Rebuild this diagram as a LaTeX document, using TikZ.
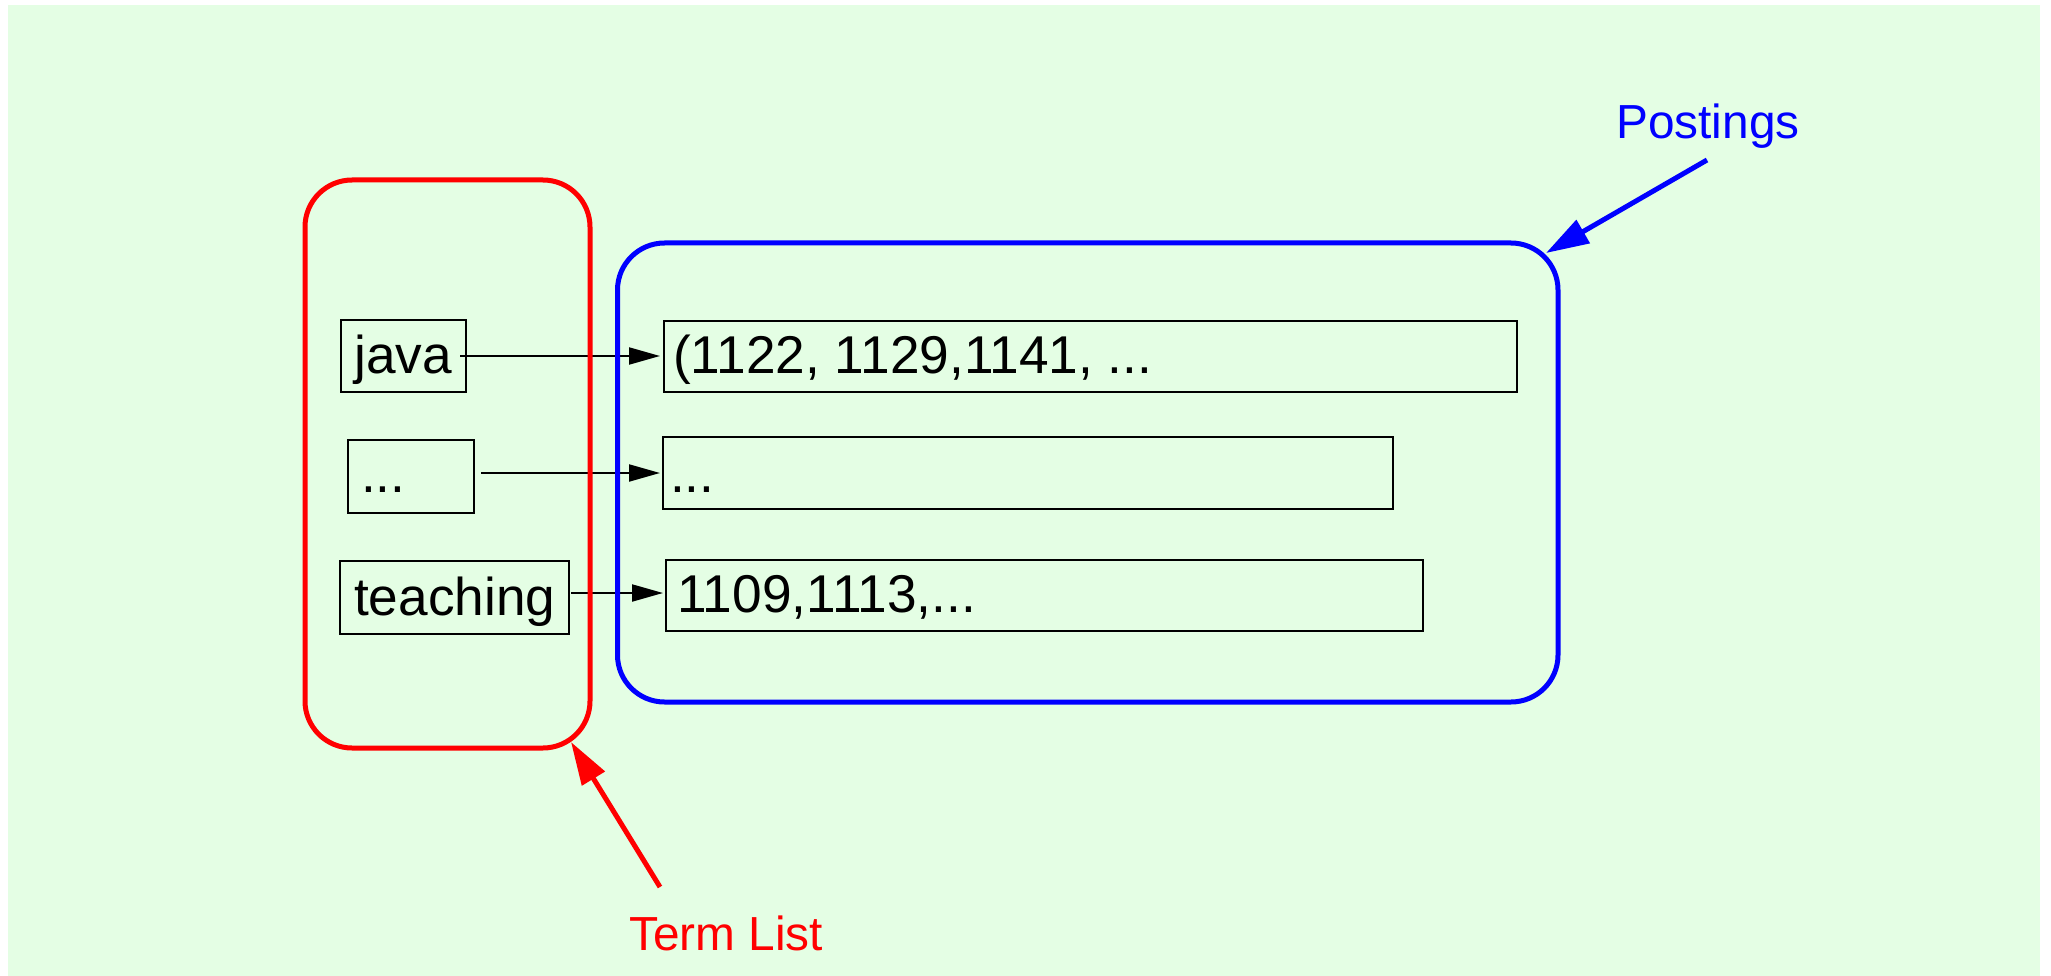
\documentclass[tikz,border=0pt]{standalone}
\usepackage{fontspec}
\setmainfont{Liberation Sans}
\usetikzlibrary{arrows.meta}
\definecolor{bggreen}{RGB}{228,254,228}
\definecolor{pred}{RGB}{255,0,0}
\definecolor{pblue}{RGB}{0,0,255}
\begin{document}
\begin{tikzpicture}[x=1pt,y=-1pt,
  box/.style={draw=black, line width=2pt, inner sep=0pt, fill=none},
  txt/.style={anchor=base west, inner sep=0pt, font=\fontsize{53.2pt}{63pt}\selectfont},
  lbl/.style={anchor=base west, inner sep=0pt, font=\fontsize{47.8pt}{57pt}\selectfont},
  ptr/.style={draw=black, line width=2pt, -{Triangle[length=31pt,width=17pt]}},
  group/.style={line width=5pt, rounded corners=47pt, inner sep=0pt},
  callout/.style={line width=5pt, -{Triangle[length=43pt,width=26pt]}}]
\useasboundingbox (0,0) rectangle (2051,976);
\fill[bggreen] (8,5) rectangle (2040,976);

% term boxes
\node[box, minimum width=125pt, minimum height=72pt] (java) at (403.5,356) {};
\node[box, minimum width=126pt, minimum height=73pt] (tdots) at (411,476.5) {};
\node[box, minimum width=229pt, minimum height=73pt] (teach) at (454.5,597.5) {};
\node[txt] (javat) at (354,373) {java};
\node[txt] (tdotst) at (361,492) {...};
\node[txt] (teacht) at (354,615) {teaching};

% postings boxes
\node[box, minimum width=853pt, minimum height=71pt] (p1) at (1090.5,356.5) {};
\node[box, minimum width=730pt, minimum height=72pt] (p2) at (1028,473) {};
\node[box, minimum width=757pt, minimum height=71pt] (p3) at (1044.5,595.5) {};
\node[txt] (p1t) at (673,373) {(1122, 1129,1141, ...};
\node[txt] (p2t) at (670,492) {...};
\node[txt] (p3t) at (677,612) {1109,1113,...};

% pointers
\coordinate (a1s) at (460,356);
\coordinate (a1e) at (660,356);
\coordinate (a2s) at (481,473);
\coordinate (a2e) at (660,473);
\coordinate (a3s) at (571,593);
\coordinate (a3e) at (663,593);
\draw[ptr] (a1s) -- (a1e);
\draw[ptr] (a2s) -- (a2e);
\draw[ptr] (a3s) -- (a3e);

% groups
\node[group, draw=pred, minimum width=285pt, minimum height=568pt] (termlist) at (447.5,464) {};
\node[group, draw=pblue, minimum width=940.5pt, minimum height=459pt] (postings) at (1087.75,472.5) {};

% labels
\node[lbl, text=pblue] (postl) at (1616,139) {Postings};
\node[lbl, text=pred] (terml) at (629,950) {Term List};
\coordinate (bt) at (1707,160);
\coordinate (bh) at (1546,253);
\coordinate (rt) at (660,887);
\coordinate (rh) at (571,742);
\draw[callout, draw=pblue, fill=pblue] (bt) -- (bh);
\draw[callout, draw=pred, fill=pred] (rt) -- (rh);
\end{tikzpicture}
\end{document}
